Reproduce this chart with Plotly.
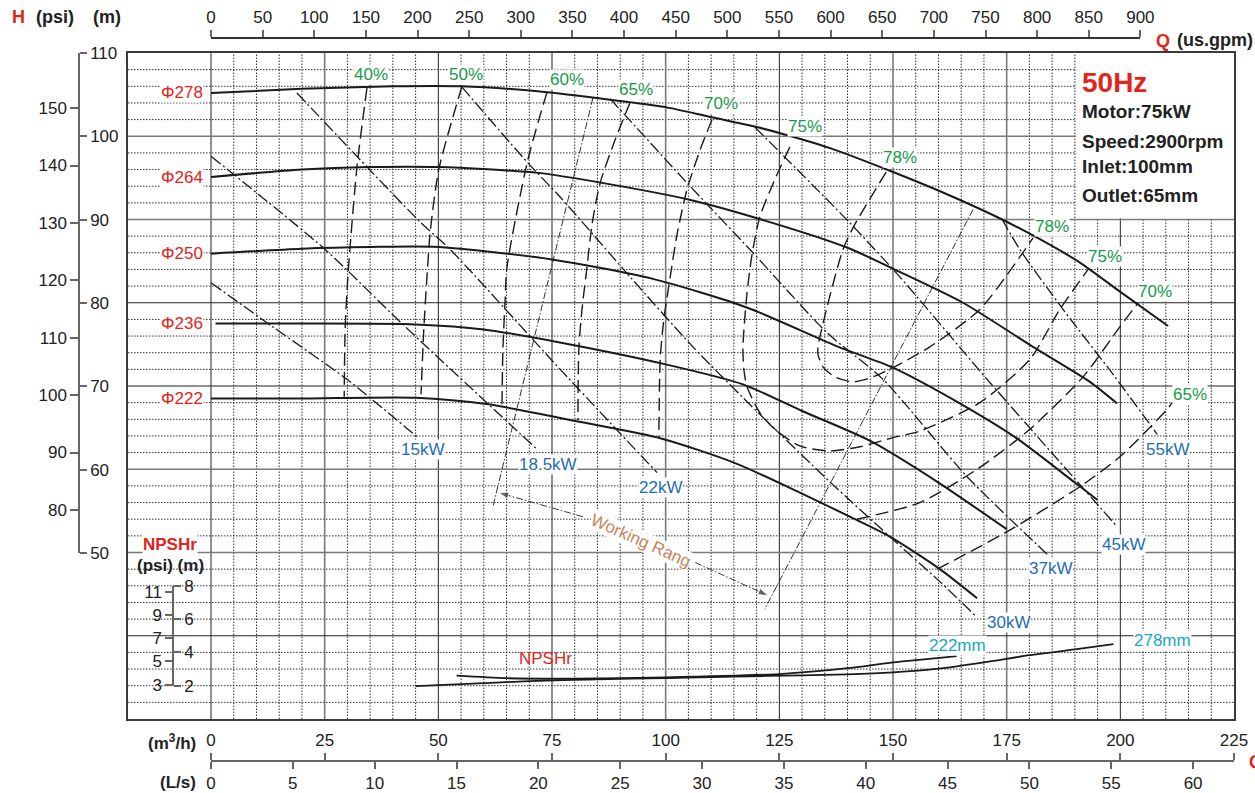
import plotly.graph_objects as go

FIG_W, FIG_H = 1255, 793

# ---------------- pump data (Q in m3/h, H in m) ----------------
# head-capacity curves for each impeller diameter
q_278 = [0, 20, 40, 55, 74, 92, 100, 110, 120, 125, 136, 150, 162, 174, 182.4, 191.2, 200, 210.5]
h_278 = [105.2, 105.7, 106.0, 106.0, 105.3, 104.1, 103.5, 102.3, 101.1, 100.4, 98.6, 95.7, 93.0, 90.0, 87.6, 84.8, 81.3, 77.2]
q_264 = [0, 20, 35, 50, 72, 86, 105, 121, 140, 151.5, 165.4, 180.8, 193.3, 199.3]
h_264 = [95.1, 96.0, 96.3, 96.3, 95.6, 94.4, 92.4, 90.0, 86.6, 83.7, 80.0, 74.7, 70.5, 67.9]
q_250 = [0, 20, 35, 50, 75, 97, 118, 138, 150, 166, 177, 190, 195]
h_250 = [85.9, 86.5, 86.7, 86.7, 85.2, 82.9, 79.4, 74.7, 72.2, 67.5, 63.8, 58.4, 56.3]
q_236 = [1, 20, 45, 60, 77, 100, 117, 130, 145, 160, 175]
h_236 = [77.5, 77.5, 77.4, 76.8, 75.2, 72.6, 70.2, 67.0, 63.4, 58.4, 52.8]
q_222 = [0, 20, 45, 61, 81, 99, 115, 129.5, 140.5, 149.3, 160.3, 168.5]
h_222 = [68.5, 68.5, 68.6, 67.8, 65.7, 63.7, 60.8, 57.2, 54.3, 51.9, 48.0, 44.5]
diameters = ["Φ278", "Φ264", "Φ250", "Φ236", "Φ222"]

# iso-efficiency lines
q_e40 = [34.3, 32.1, 30.1, 29.5, 29.3]
h_e40 = [105.8, 96.3, 83.1, 76.8, 68.7]
q_e50 = [55.2, 50.1, 48.2, 47.5, 46.8, 46.2]
h_e50 = [106.0, 96.0, 88.4, 83.1, 76.8, 69.0]
q_e60 = [73.9, 69.7, 65.1, 64.7, 64.2, 64.0]
h_e60 = [105.3, 97.2, 84.3, 80.4, 74.4, 67.7]
q_e65 = [92.2, 88.9, 85.6, 83.8, 82.7, 81.6, 80.9, 80.7]
h_e65 = [104.1, 99.6, 94.4, 89.4, 84.3, 79.2, 74.4, 65.9]
q_e70 = [110.2, 107.6, 104.7, 102.5, 101.0, 99.6, 98.8, 98.5]
h_e70 = [102.0, 98.4, 93.6, 88.2, 83.1, 78.0, 73.2, 63.8]
q_e75 = [127.3, 124.0, 120.7, 119.0, 117.9, 117.0, 117.2, 117.9, 120.7, 124.0, 129.5,
         136.1, 142.7, 150.0, 156.0, 169.1, 180.1, 186.7, 192.9]
h_e75 = [98.7, 94.8, 90.3, 85.8, 81.2, 74.7, 72.0, 69.9, 66.8, 64.8, 62.8,
         62.2, 62.7, 63.8, 64.6, 68.0, 73.2, 79.2, 84.0]
q_e78 = [148.5, 141.2, 139.0, 135.5, 133.5, 133.5, 134.6, 137.2, 141.2, 145.6, 150.0,
         158.1, 169.1, 177.9, 180.8]
h_e78 = [95.7, 89.0, 86.4, 79.5, 74.7, 73.8, 72.3, 71.1, 70.5, 71.1, 72.2,
         74.7, 79.2, 85.5, 87.8]
q_e70r = [142.1, 155.9, 168.5, 180.1, 191.8, 199.9, 203.9]
h_e70r = [54.0, 56.0, 60.0, 64.8, 71.1, 77.1, 80.0]
q_e65r = [159.7, 175.1, 191.1, 199.9, 210.3, 211.4]
h_e65r = [48.0, 52.5, 57.9, 61.5, 67.2, 68.0]

# shaft power lines
q_p15 = [0, 13.6, 29.9, 45.3]
h_p15 = [82.4, 77.1, 70.8, 63.9]
q_p18 = [0, 25.1, 41.6, 71.7]
h_p18 = [97.6, 86.4, 77.7, 62.4]
q_p22 = [18.9, 46.0, 52.6, 76.8, 98.1]
h_p22 = [105.2, 89.7, 86.4, 72.0, 59.6]
q_p30 = [55.2, 69.7, 76.8, 92.2, 106.0, 120.7, 136.1, 149.3, 160.3, 168.5]
h_p30 = [105.9, 96.8, 92.7, 83.1, 74.7, 66.6, 58.5, 51.9, 46.5, 42.2]
q_p37 = [87.8, 104.7, 119.2, 135.5, 147.8, 166.3, 183.9]
h_p37 = [104.5, 94.4, 86.0, 76.4, 70.8, 59.1, 49.8]
q_p45 = [119.6, 140.5, 151.5, 170.7, 199.3]
h_p45 = [101.1, 89.6, 83.1, 70.8, 53.1]
q_p55 = [174.0, 177.9, 187.4, 198.4, 208.1]
h_p55 = [90.0, 86.4, 79.2, 71.4, 64.2]

# working range boundaries and pointers
q_wl = [84.0, 62.0]
h_wl = [104.6, 55.5]
q_wr = [167.6, 121.8]
h_wr = [91.2, 43.2]
q_arrow_l = [81.8, 63.2]
h_arrow_l = [54.3, 57.2]
q_arrow_r = [106.5, 122.6]
h_arrow_r = [48.8, 44.8]

# NPSHr curves (m)
q_n222 = [54, 65, 80, 100, 125, 140, 150, 164]
n_n222 = [2.6, 2.45, 2.42, 2.5, 2.7, 3.05, 3.4, 3.78]
q_n278 = [45, 55, 70, 85, 100, 115, 130, 140, 150, 160, 170, 180, 190, 198.5]
n_n278 = [1.98, 2.1, 2.27, 2.38, 2.46, 2.55, 2.62, 2.68, 2.8, 3.02, 3.4, 3.83, 4.18, 4.5]

# axis ticks
ticks_m3h = list(range(0, 226, 25))
ticks_ls = list(range(0, 61, 5))
ticks_gpm = list(range(0, 901, 50))
ticks_h_m = list(range(50, 111, 10))
ticks_h_psi = list(range(80, 151, 10))
ticks_npsh_m = [2, 4, 6, 8]
ticks_npsh_psi = [3, 5, 7, 9, 11]

# ---------------- styling ----------------
RED = "#e1251b"
GREEN = "#169a4a"
BLUE = "#1f6db3"
CYAN = "#19a7bf"
BROWN = "#c5845a"
INK = "#222222"
FONT = "Arial, Liberation Sans, sans-serif"

DASH_EFF = "13px,6px"
DASH_PWR = "12px,3px,2px,3px"
DASH_THIN = "7px,2px,1.5px,2px"

# frame geometry (pixels)
PX_L, PX_R, PX_T, PX_B = 128, 1234, 53, 719
PX_Q0 = 211


def fx(px):
    return px / FIG_W


def fy(py):
    return 1 - py / FIG_H


Q_MAX = 225
Q_MIN = -(PX_Q0 - PX_L) * Q_MAX / (PX_R - PX_Q0)
GPM_TO_M3H = 0.227125
PX_GPM_END = PX_Q0 + 900 * GPM_TO_M3H * (PX_R - PX_Q0) / Q_MAX

fig = go.Figure()


def line(q, h, width=2.0, dash="solid", color="#1a1a1a", yaxis="y", smooth=True):
    fig.add_trace(go.Scatter(
        x=q, y=h, mode="lines", yaxis=yaxis, hoverinfo="skip",
        line=dict(color=color, width=width, dash=dash,
                  shape="spline" if smooth else "linear", smoothing=0.7)))


# power lines
for q, h in [(q_p15, h_p15), (q_p18, h_p18), (q_p22, h_p22), (q_p30, h_p30),
             (q_p37, h_p37), (q_p45, h_p45), (q_p55, h_p55)]:
    line(q, h, width=1.3, dash=DASH_PWR)

# efficiency lines
for q, h in [(q_e40, h_e40), (q_e50, h_e50), (q_e60, h_e60), (q_e65, h_e65),
             (q_e70, h_e70), (q_e75, h_e75), (q_e78, h_e78), (q_e70r, h_e70r),
             (q_e65r, h_e65r)]:
    line(q, h, width=1.4, dash=DASH_EFF)

# working range
line(q_wl, h_wl, width=0.9, dash=DASH_THIN, smooth=False)
line(q_wr, h_wr, width=0.9, dash=DASH_THIN, smooth=False)
for q, h in [(q_arrow_l, h_arrow_l), (q_arrow_r, h_arrow_r)]:
    fig.add_trace(go.Scatter(
        x=q, y=h, mode="lines+markers", hoverinfo="skip",
        line=dict(color=INK, width=0.9, dash=DASH_THIN),
        marker=dict(symbol="arrow", size=[0, 11], angleref="previous", color=INK)))

# head-capacity curves
curves = [(q_278, h_278), (q_264, h_264), (q_250, h_250), (q_236, h_236), (q_222, h_222)]
for q, h in curves:
    line(q, h, width=2.0)

# NPSHr curves
line(q_n222, n_n222, width=1.8, yaxis="y6")
line(q_n278, n_n278, width=1.8, yaxis="y6")

# dummy traces so the auxiliary axes are rendered
for xa, ya, xv, yv in [("x2", "y2", 0, 60), ("x3", "y3", 0, 100), ("x4", "y4", 0, 4), ("x3", "y5", 0, 5)]:
    fig.add_trace(go.Scatter(x=[xv], y=[yv], xaxis=xa, yaxis=ya, mode="markers",
                             marker=dict(opacity=0), hoverinfo="skip"))

# ---------------- grid ----------------
shapes = []
DOT = dict(color="#333333", width=1, dash="1.5px,1.5px")
for q in range(5, 225, 5):
    if q % 25:
        shapes.append(dict(type="line", xref="x", yref="y", x0=q, x1=q, y0=30, y1=110,
                           line=DOT, layer="below"))
for hv in range(32, 110, 2):
    if hv % 10:
        shapes.append(dict(type="line", xref="x", yref="y", x0=Q_MIN, x1=Q_MAX, y0=hv, y1=hv,
                           line=DOT, layer="below"))
grey_q = {25, 100, 150, 175}
for q in range(0, 225, 25):
    c, w = ("#7a7a7a", 1.6) if q in grey_q else ("#222", 1)
    shapes.append(dict(type="line", xref="x", yref="y", x0=q, x1=q, y0=30, y1=110,
                       line=dict(color=c, width=w), layer="below"))
grey_h = {100, 90, 60, 50}
for hv in range(40, 101, 10):
    c, w = ("#7a7a7a", 1.6) if hv in grey_h else ("#222", 1)
    shapes.append(dict(type="line", xref="x", yref="y", x0=Q_MIN, x1=Q_MAX, y0=hv, y1=hv,
                       line=dict(color=c, width=w), layer="below"))
# info panel background
shapes.append(dict(type="rect", xref="x", yref="y", x0=190.3, x1=Q_MAX, y0=90.15, y1=110,
                   fillcolor="white", line=dict(width=0), layer="below"))

# ---------------- annotations ----------------
ann = []


def text(x, y, s, color=INK, size=17, bold=False, xanchor="center", xref="x", yref="y",
         bg="white", angle=0):
    if bold:
        s = "<b>" + s + "</b>"
    ann.append(dict(x=x, y=y, xref=xref, yref=yref, text=s, showarrow=False,
                    xanchor=xanchor, yanchor="middle", textangle=angle,
                    font=dict(family=FONT, size=size, color=color),
                    bgcolor=bg, borderpad=0))


# impeller labels at the start of each curve
for name, (q, h) in zip(diameters, curves):
    text(-1.6, h[0], name, color=RED, xanchor="right")

# efficiency labels
for x, y, s in [(35.2, 107.4, "40%"), (56.1, 107.4, "50%"), (78.3, 106.8, "60%"),
                (93.5, 105.6, "65%"), (112.2, 103.9, "70%"), (130.6, 101.2, "75%"),
                (151.5, 97.4, "78%"), (185.0, 89.2, "78%"), (196.6, 85.5, "75%"),
                (207.6, 81.3, "70%"), (215.3, 69.0, "65%")]:
    text(x, y, s, color=GREEN)

# power labels
for x, y, s in [(46.6, 62.4, "15kW"), (74.1, 60.6, "18.5kW"), (98.8, 57.8, "22kW"),
                (175.3, 41.6, "30kW"), (184.6, 48.1, "37kW"), (200.6, 51.0, "45kW"),
                (210.3, 62.4, "55kW")]:
    text(x, y, s, color=BLUE)

# NPSHr labels (NPSH axis values mapped on head axis: H = 30 + 2*NPSH)
text(73.5, 30 + 2 * 3.66, "NPSHr", color=RED, bg=None)
text(164.1, 30 + 2 * 4.44, "222mm", color=CYAN)
text(209.2, 30 + 2 * 4.74, "278mm", color=CYAN)

text(94.4, 51.4, "Working Rang", color=BROWN, angle=24)

# axis titles
text(fx(18), fy(17), "H", color=RED, size=18, bold=True, xref="paper", yref="paper", bg=None)
text(fx(55), fy(17), "(psi)", size=18, bold=True, xref="paper", yref="paper", bg=None)
text(fx(107), fy(17), "(m)", size=18, bold=True, xref="paper", yref="paper", bg=None)
text(fx(1163), fy(41), "Q", color=RED, size=18, bold=True, xref="paper", yref="paper", bg=None)
text(fx(1215), fy(40), "(us.gpm)", size=18, bold=True, xref="paper", yref="paper", bg=None)
text(fx(197), fy(742), "(m<sup>3</sup>/h)", size=17, bold=True, xanchor="right",
     xref="paper", yref="paper", bg=None)
text(fx(197), fy(782), "(L/s)", size=17, bold=True, xanchor="right",
     xref="paper", yref="paper", bg=None)
text(fx(1248), fy(762), "Q", color=RED, size=18, bold=True, xanchor="left",
     xref="paper", yref="paper", bg=None)
text(fx(170), fy(544), "NPSHr", color=RED, size=17, bold=True, xref="paper", yref="paper")
text(fx(170), fy(565), "(psi) (m)", size=17, bold=True, xref="paper", yref="paper", bg=None)

# motor data panel
text(fx(1081), fy(82), "50Hz", color=RED, size=28, bold=True, xanchor="left",
     xref="paper", yref="paper", bg=None)
for py, s in [(112, "Motor:75kW"), (141, "Speed:2900rpm"), (167, "Inlet:100mm"),
              (195, "Outlet:65mm")]:
    text(fx(1081), fy(py), s, size=19, bold=True, xanchor="left",
         xref="paper", yref="paper", bg=None)

# ---------------- axes ----------------
TICKFONT = dict(family=FONT, size=17, color=INK)
hidden = dict(showgrid=False, zeroline=False, showticklabels=False, ticks="",
              fixedrange=True)


def aux_axis(**kw):
    base = dict(anchor="free", showgrid=False, zeroline=False, ticks="outside",
                tickwidth=1.5, tickcolor="#666", showline=True, linecolor="#666",
                linewidth=1.5, tickfont=TICKFONT, tickmode="array", fixedrange=True,
                automargin=False)
    base.update(kw)
    return base


fig.update_layout(
    width=FIG_W, height=FIG_H,
    margin=dict(l=0, r=0, t=0, b=0, pad=0, autoexpand=False),
    paper_bgcolor="white", plot_bgcolor="rgba(0,0,0,0)",
    showlegend=False,
    xaxis=dict(domain=[fx(PX_L), fx(PX_R)], range=[Q_MIN, Q_MAX], showline=True,
               mirror=True, linecolor="#3a3a3a", linewidth=1.5, **hidden),
    yaxis=dict(domain=[fy(PX_B), fy(PX_T)], range=[30, 110], showline=True,
               mirror=True, linecolor="#3a3a3a", linewidth=1.5, **hidden),
    yaxis6=dict(overlaying="y", anchor="x", range=[0, 40], visible=False, fixedrange=True),
    xaxis2=aux_axis(domain=[fx(PX_Q0), fx(PX_GPM_END)], range=[0, 900], position=fy(38),
                    side="top", tickvals=ticks_gpm, ticklen=7, linecolor="#333"),
    xaxis3=aux_axis(domain=[fx(PX_Q0), fx(PX_R)], range=[0, Q_MAX], position=fy(761),
                    side="top", tickvals=ticks_m3h, ticklen=7),
    xaxis4=aux_axis(domain=[fx(PX_Q0), fx(PX_R)], range=[0, Q_MAX / 3.6], position=fy(761),
                    side="bottom", tickvals=ticks_ls, ticklen=7, showline=False),
    yaxis2=aux_axis(domain=[fy(553), fy(PX_T)], range=[50, 110], position=fx(79),
                    side="right", tickvals=ticks_h_m, ticklen=7),
    yaxis3=aux_axis(domain=[fy(553), fy(PX_T)], range=[72.5, 159.6], position=fx(79),
                    side="left", tickvals=ticks_h_psi, ticklen=8),
    yaxis4=aux_axis(domain=[fy(685.7), fy(585.7)], range=[2, 8], position=fx(173),
                    side="right", tickvals=ticks_npsh_m, ticklen=7),
    yaxis5=aux_axis(domain=[fy(685.7), fy(585.7)], range=[2.91, 11.52], position=fx(173),
                    side="left", tickvals=ticks_npsh_psi, ticklen=7),
    shapes=shapes,
    annotations=ann,
)

# the page body keeps no default margin so the figure fills the window exactly
fig.write_html("out.html",
               post_script="document.body.style.margin='0';document.body.style.overflow='hidden';")
